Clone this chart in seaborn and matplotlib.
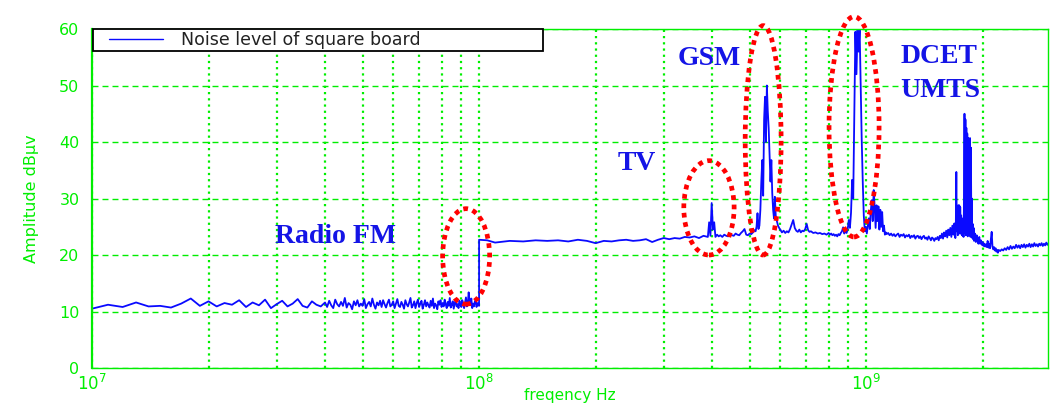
import matplotlib
matplotlib.use("Agg")
import matplotlib.pyplot as plt
import seaborn as sns
import pandas as pd
from matplotlib.patches import Ellipse
from matplotlib.lines import Line2D
from matplotlib.legend_handler import HandlerLine2D
from matplotlib.ticker import FixedLocator, NullFormatter

# ---- data (frequency in MHz, amplitude in dBuV) ----
low_band_freq = [10, 11, 12, 13, 14, 15, 16, 17, 18, 19, 20, 21, 22, 23, 24,
                 25, 26, 27, 28, 29, 30, 31, 32, 33, 34, 35, 36, 37, 38, 39]
low_band_amp = [10.5, 11.2, 10.8, 11.6, 10.9, 11.0, 10.7, 11.4, 12.3, 11.0,
                11.8, 10.9, 11.5, 11.2, 12.0, 10.8, 11.6, 11.1, 12.1, 10.6,
                11.3, 11.9, 10.9, 11.4, 12.2, 11.0, 10.7, 11.8, 11.2, 10.9]

fm_band_freq = [40, 40.5, 41, 41.5, 42, 42.5, 43, 43.5, 44, 44.5,
                45, 45.5, 46, 46.5, 47, 47.5, 48, 48.5, 49, 49.5,
                50, 50.5, 51, 51.5, 52, 52.5, 53, 53.5, 54, 54.5,
                55, 55.5, 56, 56.5, 57, 57.5, 58, 58.5, 59, 59.5,
                60, 60.5, 61, 61.5, 62, 62.5, 63, 63.5, 64, 64.5,
                65, 65.5, 66, 66.5, 67, 67.5, 68, 68.5, 69, 69.5,
                70, 70.5, 71, 71.5, 72, 72.5, 73, 73.5, 74, 74.5,
                75, 75.5, 76, 76.5, 77, 77.5, 78, 78.5, 79, 79.5,
                80, 80.5, 81, 81.5, 82, 82.5, 83, 83.5, 84, 84.5,
                85, 85.5, 86, 86.5, 87, 87.5, 88, 88.5, 89, 89.5,
                90, 90.5, 91, 91.5, 92, 92.5, 93, 93.5, 94, 94.5,
                95, 95.5, 96, 96.5, 97, 97.5, 98, 98.5, 99, 99.5, 100]
fm_band_amp = [11.6, 10.8, 11.9, 11.1, 10.6, 12.1, 11.3, 10.9, 11.7, 11.0,
               12.4, 10.7, 11.5, 11.2, 10.4, 11.8, 11.1, 12.0, 10.9, 11.4,
               11.0, 12.2, 10.6, 11.3, 11.7, 10.9, 12.3, 11.2, 10.5, 11.6,
               11.1, 11.9, 10.8, 12.0, 11.3, 10.7, 11.5, 12.1, 10.9, 11.2,
               11.8, 10.6, 11.4, 12.2, 11.0, 10.8, 11.7, 11.2, 10.5, 12.0,
               11.3, 10.9, 11.6, 12.4, 10.7, 11.1, 11.8, 10.6, 11.5, 12.1,
               10.8, 11.4, 11.9, 10.5, 11.2, 12.0, 10.9, 11.6, 11.1, 10.7,
               11.9, 11.0, 12.3, 10.6, 11.4, 11.1, 10.4, 11.8, 11.2, 12.0,
               10.8, 11.5, 10.9, 12.1, 11.3, 10.6, 11.7, 11.0, 12.4, 10.7,
               11.2, 11.8, 10.5, 11.4, 12.2, 10.9, 11.3, 10.6, 11.9, 11.1,
               10.8, 12.0, 11.2, 10.6, 11.6, 12.5, 10.9, 11.3, 13.4, 11.8,
               11.1, 12.3, 10.6, 11.4, 10.9, 11.7, 12.0, 10.8, 11.5, 11.2, 11.0]

vhf_freq = [100, 105, 110, 120, 130, 140, 150, 160, 170, 180, 190, 200, 210,
            220, 230, 240, 250, 260, 270, 280, 290, 300, 310, 320, 330, 340,
            350, 360, 370, 380, 390]
vhf_amp = [22.7, 22.6, 22.2, 22.5, 22.4, 22.6, 22.5, 22.6, 22.4, 22.7, 22.5,
           22.1, 22.5, 22.4, 22.6, 22.7, 22.5, 22.6, 22.8, 22.3, 22.7, 23.0,
           22.8, 23.0, 22.9, 23.2, 23.1, 23.3, 23.0, 23.4, 23.2]

tv_freq = [393, 396, 399, 402, 405, 408, 412, 416, 420, 425, 430, 435, 440,
           445, 450, 455, 460, 465, 470, 475, 480, 485, 490, 495, 500, 505,
           510, 515]
tv_amp = [25.8, 23.4, 29.2, 24.5, 25.8, 23.2, 23.6, 23.3, 23.5, 23.2, 23.6,
          23.4, 23.3, 23.7, 23.5, 23.4, 23.8, 23.6, 23.5, 23.9, 24.2, 24.6,
          23.6, 23.5, 23.8, 23.7, 24.0, 24.4]

gsm_freq = [518, 521, 524, 527, 530, 533, 536, 539, 542, 545, 548, 551, 554,
            557, 560, 563, 566, 569, 572, 575, 578, 581, 584, 588, 592, 596]
gsm_amp = [24.2, 25.0, 27.4, 24.6, 25.2, 28.0, 33.0, 36.8, 30.5, 44.0, 48.0,
           40.0, 50.0, 45.5, 42.5, 38.0, 33.0, 36.8, 31.0, 28.0, 26.5, 30.3,
           27.0, 26.0, 25.2, 24.8]

uhf_freq = [600, 606, 612, 618, 624, 630, 636, 642, 648, 654, 660, 666, 672,
            678, 684, 690, 696, 702, 708, 714, 720, 730, 740, 750, 760, 770,
            780, 790]
uhf_amp = [24.5, 24.0, 24.3, 23.9, 24.2, 24.0, 24.6, 25.4, 26.2, 24.8, 24.3,
           24.1, 24.5, 24.0, 24.3, 24.2, 24.6, 25.5, 24.4, 24.1, 24.2, 23.9,
           24.0, 23.8, 23.9, 23.7, 23.8, 23.6]

dcs_freq = [800, 806, 812, 818, 824, 830, 836, 842, 848, 854, 860, 866, 872,
            878, 884, 890, 896, 902, 908, 914, 920, 926, 932, 938, 944, 950,
            956, 962, 968, 974, 980, 986, 992, 998, 1004, 1010, 1016, 1022,
            1028, 1034, 1040, 1046, 1052, 1058, 1064, 1070, 1076, 1082, 1088,
            1094, 1100, 1106, 1112, 1118, 1124, 1130]
dcs_amp = [23.9, 23.6, 23.8, 23.5, 23.7, 23.4, 23.6, 23.3, 23.7, 23.5, 23.9,
           24.2, 24.9, 23.8, 24.4, 23.9, 24.6, 26.2, 24.8, 27.5, 33.3, 30.0,
           45.0, 59.5, 52.0, 60.0, 56.0, 60.0, 50.0, 40.4, 33.0, 27.0, 24.2,
           25.0, 23.8, 25.2, 26.5, 24.6, 27.8, 29.7, 26.0, 31.5, 28.5, 24.8,
           28.8, 26.0, 28.6, 24.5, 28.0, 25.0, 27.6, 24.2, 25.2, 23.6, 24.0,
           23.7]

l_band_freq = [1140, 1150, 1160, 1170, 1180, 1190, 1200, 1210, 1220, 1230,
               1240, 1250, 1260, 1270, 1280, 1290, 1300, 1310, 1320, 1330,
               1340, 1350, 1360, 1370, 1380, 1390, 1400, 1410, 1420, 1430,
               1440, 1450, 1460, 1470, 1480, 1490, 1500, 1510, 1520, 1530,
               1540, 1550, 1560, 1570, 1580, 1590, 1600, 1610, 1620, 1630,
               1640, 1650, 1660, 1670, 1680, 1690, 1700]
l_band_amp = [23.9, 23.5, 23.8, 23.4, 23.7, 23.3, 23.6, 23.8, 23.2, 23.6,
              23.4, 23.7, 23.1, 23.5, 23.3, 23.6, 23.0, 23.4, 23.2, 23.5,
              22.9, 23.3, 23.4, 23.0, 23.3, 22.8, 23.2, 23.4, 22.9, 23.1,
              22.7, 23.3, 23.0, 22.6, 23.1, 22.9, 22.5, 23.0, 22.8, 23.2,
              22.6, 23.4, 23.0, 23.8, 22.9, 24.0, 23.3, 24.3, 23.1, 24.5,
              23.5, 24.8, 23.2, 25.2, 23.6, 25.6, 23.0]

umts_freq = [1705, 1710, 1715, 1720, 1725, 1730, 1735, 1740, 1745, 1750,
             1755, 1760, 1765, 1770, 1775, 1780, 1785, 1790, 1795, 1800,
             1805, 1810, 1815, 1820, 1825, 1830, 1835, 1840, 1845, 1850,
             1855, 1860, 1865, 1870, 1875, 1880, 1885, 1890, 1895, 1900,
             1910, 1920, 1930, 1940, 1950]
umts_amp = [25.8, 34.7, 24.2, 26.0, 23.5, 28.8, 24.0, 28.8, 23.8, 28.5,
            24.5, 27.0, 23.6, 25.5, 23.4, 26.5, 23.2, 30.0, 45.0, 24.0,
            44.0, 23.5, 42.5, 24.0, 41.5, 23.3, 40.7, 24.2, 40.0, 23.5,
            40.7, 23.2, 39.0, 24.0, 30.0, 23.0, 25.5, 22.8, 24.8, 22.5,
            23.8, 22.3, 23.5, 22.4, 22.0]

high_band_freq = [1960, 1970, 1980, 1990, 2000, 2010, 2020, 2030, 2040, 2050,
                  2060, 2070, 2080, 2090, 2100, 2110, 2120, 2130, 2140, 2150,
                  2160, 2170, 2180, 2190, 2200, 2220, 2240, 2260, 2280, 2300,
                  2320, 2340, 2360, 2380, 2400, 2420, 2440, 2460, 2480, 2500,
                  2520, 2540, 2560, 2580, 2600, 2620, 2640, 2660, 2680, 2700,
                  2720, 2740, 2760, 2780, 2800, 2820, 2840, 2860, 2880, 2900,
                  2920, 2940, 2960, 2980, 3000]
high_band_amp = [23.2, 22.0, 22.6, 21.8, 22.3, 21.6, 22.0, 21.5, 21.9, 21.4,
                 22.5, 21.3, 22.0, 21.2, 22.8, 24.1, 21.5, 21.0, 21.4, 20.8,
                 21.2, 20.6, 20.9, 20.4, 20.9, 20.7, 21.0, 20.8, 21.2, 20.9,
                 21.4, 21.0, 21.6, 21.1, 21.5, 21.2, 21.8, 21.3, 21.7, 21.2,
                 21.8, 21.4, 21.9, 21.3, 21.8, 21.5, 22.0, 21.4, 21.9, 21.5,
                 22.1, 21.6, 21.9, 21.5, 22.0, 21.7, 22.1, 21.6, 22.0, 21.7,
                 22.2, 21.8, 22.1, 21.9, 22.2]

# labelled zones: text, left frequency (MHz), baseline amplitude
zone_labels = ['Radio FM', 'TV', 'GSM', 'DCET', 'UMTS']
zone_label_freq = [29.7, 227.5, 325, 1225, 1225]
zone_label_amp = [22.1, 35.0, 53.6, 54.0, 48.0]

# red dotted rings: frequency span (MHz) and amplitude span
ring_freq_lo = [80.5, 338, 487, 802]
ring_freq_hi = [106.5, 456, 603, 1080]
ring_amp_lo = [11.3, 20.0, 20.0, 23.2]
ring_amp_hi = [28.2, 36.7, 60.6, 62.2]

legend_text = 'Noise level of square board'

# ---- build the trace ----
freq_mhz = (low_band_freq + fm_band_freq + vhf_freq + tv_freq + gsm_freq
            + uhf_freq + dcs_freq + l_band_freq + umts_freq + high_band_freq)
amp_db = (low_band_amp + fm_band_amp + vhf_amp + tv_amp + gsm_amp
          + uhf_amp + dcs_amp + l_band_amp + umts_amp + high_band_amp)
df = pd.DataFrame({'freq': [f * 1e6 for f in freq_mhz], 'amp': amp_db})

sns.set_style('white')
plt.rcParams['font.family'] = ['DejaVu Sans']

GREEN = '#00ee00'
BLUE = '#0a0aff'

fig = plt.figure(figsize=(10.5, 4.07), dpi=100)
ax = fig.add_axes([0.0876, 0.0958, 0.9105, 0.8329])

sns.lineplot(data=df, x='freq', y='amp', estimator=None, sort=False,
             color=BLUE, linewidth=1.3, label=legend_text, ax=ax)

ax.set_xscale('log')
ax.set_xlim(1e7, 2.95e9)
ax.set_ylim(0, 60)
ax.set_yticks([0, 10, 20, 30, 40, 50, 60])
ax.xaxis.set_major_locator(FixedLocator([1e7, 1e8, 1e9]))
ax.xaxis.set_minor_locator(FixedLocator(
    [m * 10 ** e for e in (7, 8, 9) for m in range(2, 10)]))
ax.xaxis.set_minor_formatter(NullFormatter())

ax.grid(False)
ax.grid(True, which='major', axis='y', color=GREEN, linewidth=1.0,
        linestyle=(0, (4.3, 2.9)))
ax.grid(True, which='both', axis='x', color=GREEN, linewidth=1.6,
        linestyle=(0, (1, 1.8)))

for side, sp in ax.spines.items():
    sp.set_color(GREEN)
    sp.set_linewidth(1.6 if side == 'left' else 1.0)

ax.tick_params(which='both', direction='in', colors=GREEN, length=0)
ax.tick_params(axis='y', labelsize=11.5, pad=9)
ax.tick_params(axis='x', labelsize=12, pad=4)

ax.set_xlabel('freqency Hz', color=GREEN, fontsize=11)
ax.xaxis.set_label_coords(0.5, -0.059)
ax.set_ylabel('Amplitude dBµv', color=GREEN, fontsize=11.5)
ax.yaxis.set_label_coords(-0.055, 0.5)

# zone labels
for txt, f, a in zip(zone_labels, zone_label_freq, zone_label_amp):
    ax.text(f * 1e6, a, txt, ha='left', va='baseline', color='#1414e6',
            fontsize=20, fontweight='bold', family=['Liberation Serif'])

# red dotted rings, placed from data spans
to_axes = ax.transAxes.inverted()
for f0, f1, a0, a1 in zip(ring_freq_lo, ring_freq_hi, ring_amp_lo, ring_amp_hi):
    x0, y0 = to_axes.transform(ax.transData.transform((f0 * 1e6, a0)))
    x1, y1 = to_axes.transform(ax.transData.transform((f1 * 1e6, a1)))
    ring = Ellipse(((x0 + x1) / 2, (y0 + y1) / 2), x1 - x0, y1 - y0,
                   transform=ax.transAxes, fill=False, edgecolor='#ff0000',
                   linewidth=3.4, linestyle=(0, (1, 1.0)), clip_on=False,
                   zorder=5)
    ax.add_patch(ring)

leg = ax.legend(loc='upper left', bbox_to_anchor=(0.001, 1.0, 0.4707, 0.0),
                mode='expand', borderaxespad=0.0, fontsize=12.5,
                handlelength=3.9, handletextpad=1.05, borderpad=0.12,
                fancybox=False, framealpha=1.0, edgecolor='black',
                handler_map={Line2D: HandlerLine2D(xpad=0.8)})
leg.get_frame().set_linewidth(1.3)
for t in leg.get_texts():
    t.set_color('#222222')
for h in leg.get_lines():
    h.set_linewidth(1.0)

fig.savefig('out.png', dpi=100)
